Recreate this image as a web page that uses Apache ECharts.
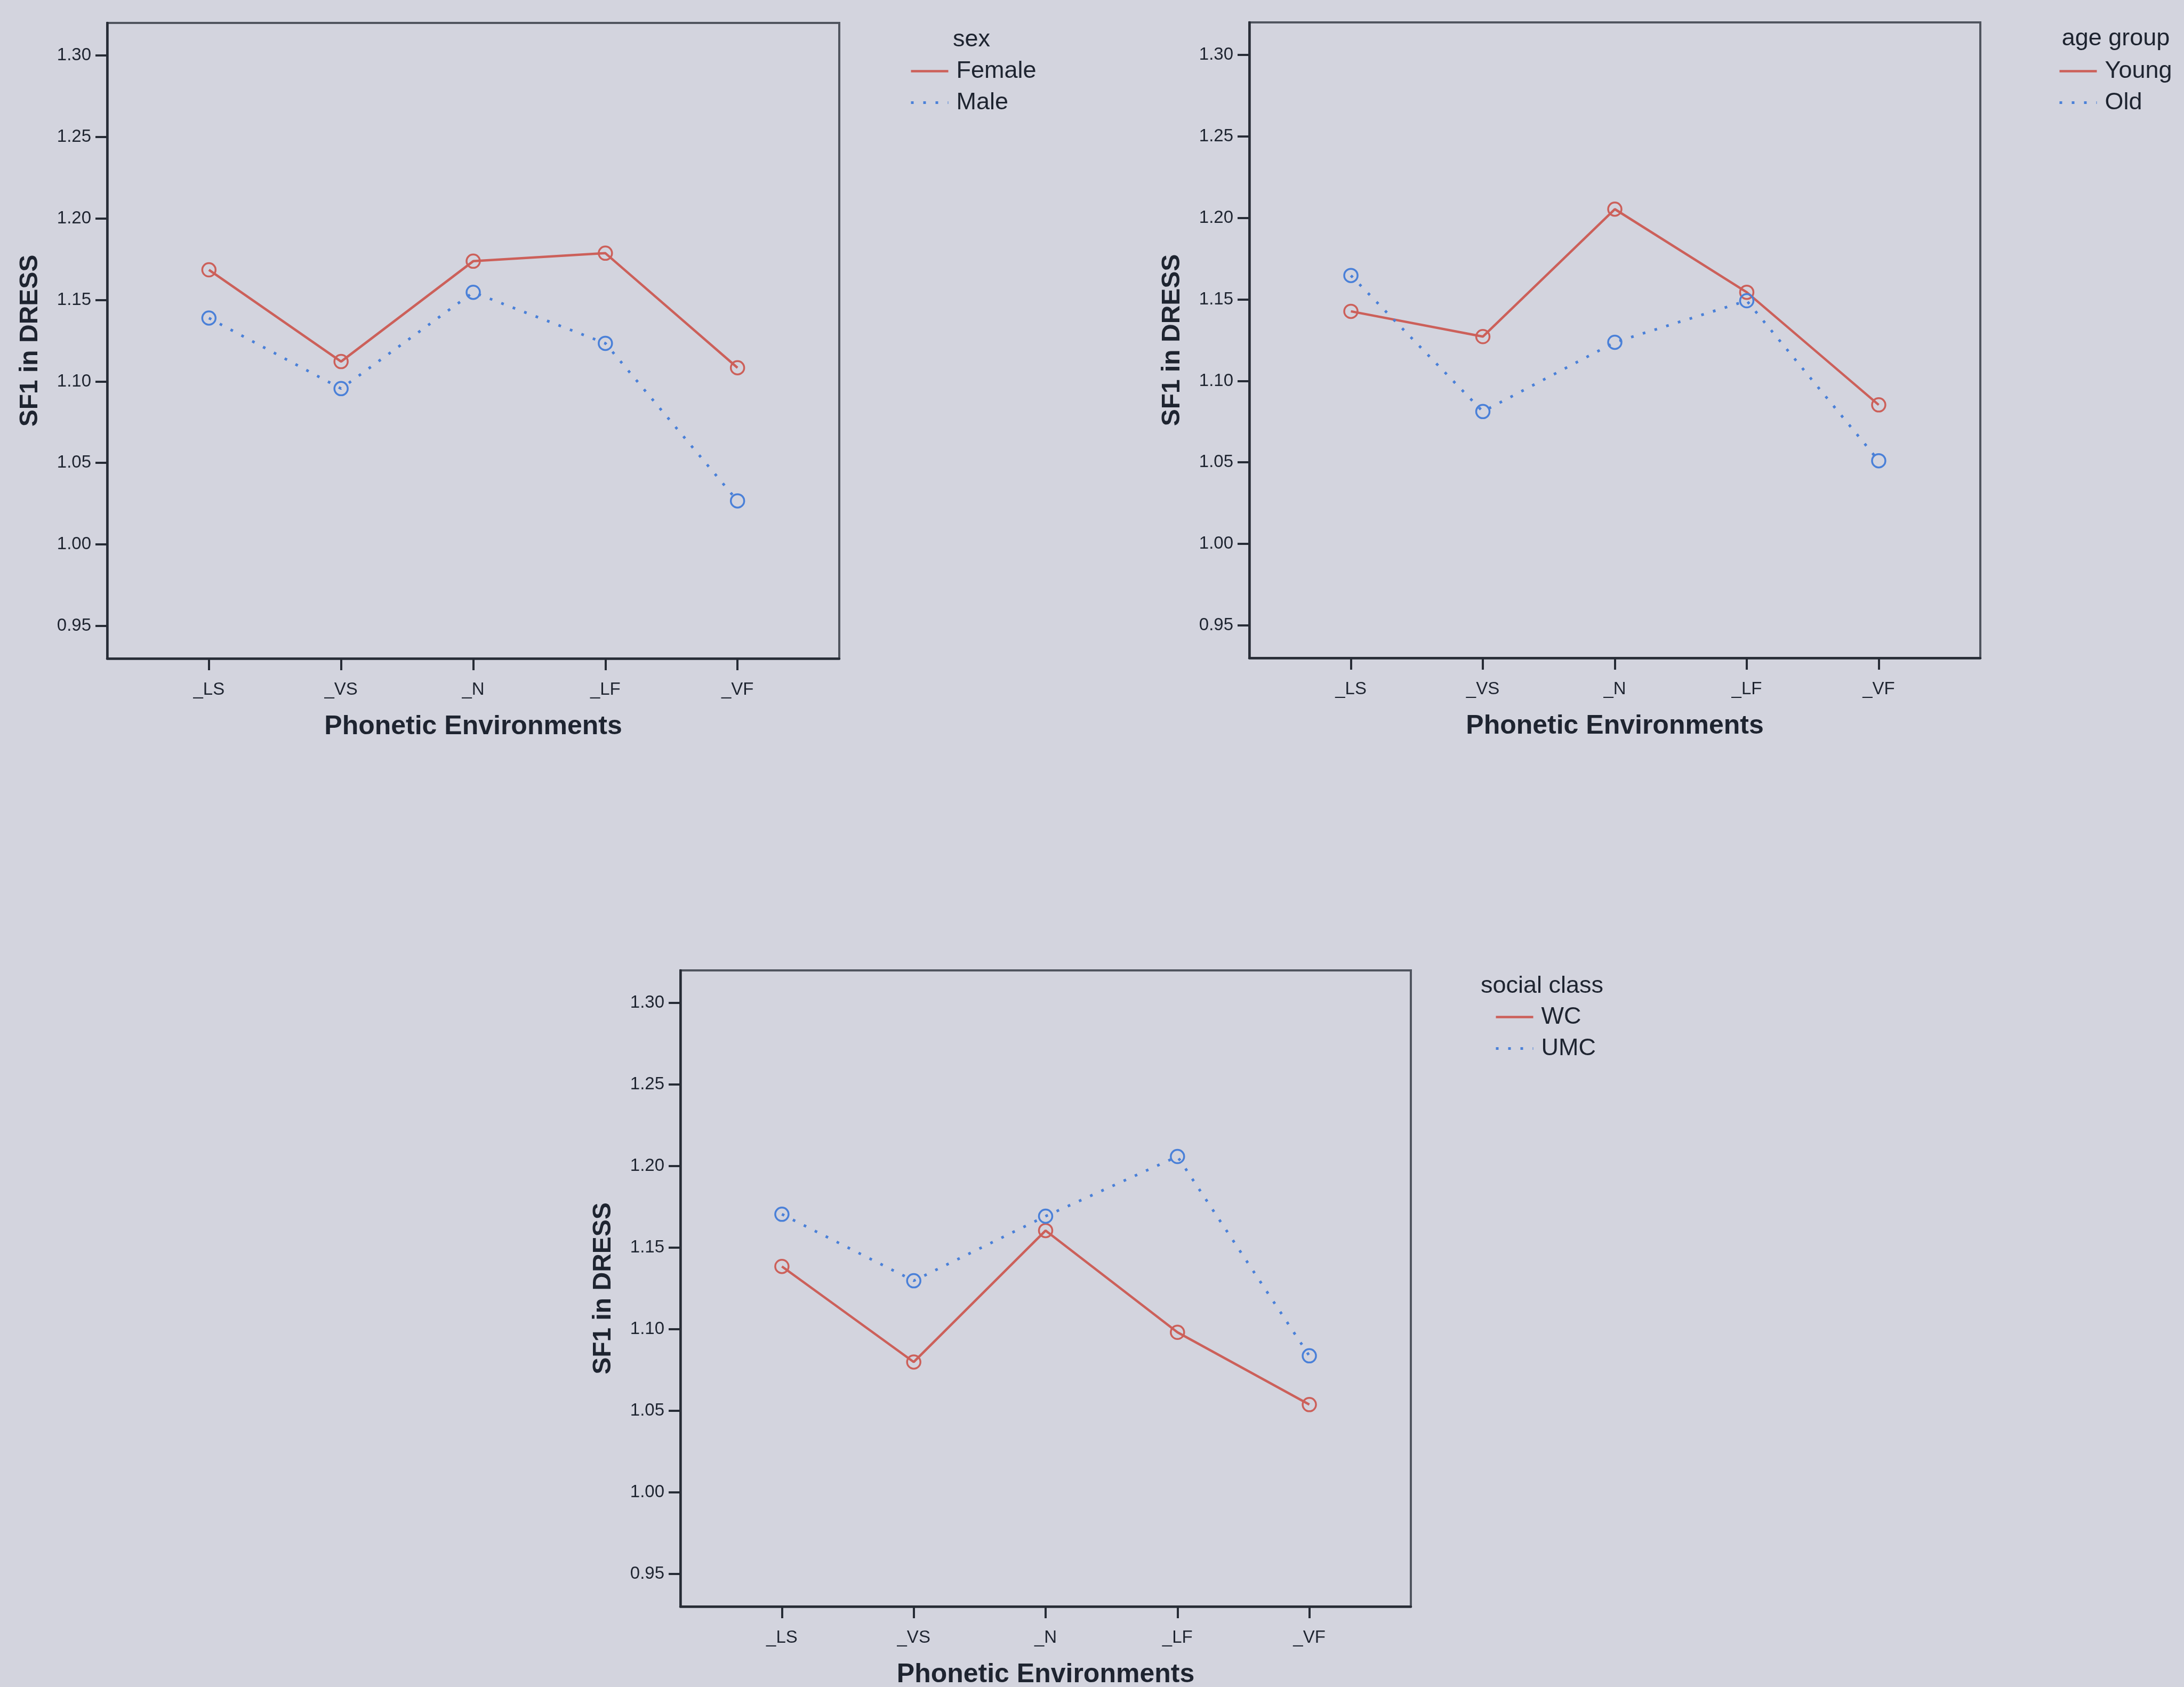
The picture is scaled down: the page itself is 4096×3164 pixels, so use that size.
<!DOCTYPE html>
<html><head><meta charset="utf-8">
<script src="https://cdn.jsdelivr.net/npm/echarts@6/dist/echarts.min.js"></script>
<style>html,body{margin:0;padding:0;background:#d3d4de}#c{width:4096px;height:3164px}</style>
</head><body><div id="c"></div>
<script>
// ---- data ----
const categories = ['_LS', '_VS', '_N', '_LF', '_VF'];
const yTicks = [0.95, 1.00, 1.05, 1.10, 1.15, 1.20, 1.25, 1.30];
const xTicks = [0, 1, 2, 3, 4];
const yTitle = 'SF1 in DRESS';
const xTitle = 'Phonetic Environments';

const sexTitle = 'sex';
const sexNames = ['Female', 'Male'];
const sexFemale = [1.1685, 1.1122, 1.1738, 1.1787, 1.1084];
const sexMale   = [1.1389, 1.0956, 1.1547, 1.1234, 1.0267];

const ageTitle = 'age group';
const ageNames = ['Young', 'Old'];
const ageYoung = [1.1427, 1.1272, 1.2054, 1.1544, 1.0853];
const ageOld   = [1.1647, 1.0812, 1.1237, 1.1492, 1.0510];

const classTitle = 'social class';
const classNames = ['WC', 'UMC'];
const classWC  = [1.1385, 1.0799, 1.1605, 1.0981, 1.0538];
const classUMC = [1.1705, 1.1297, 1.1693, 1.2059, 1.0837];

// ---- layout / style ----
const FONT = "'Liberation Sans', Arial, Helvetica, sans-serif";
const TXT = '#1e2430';
const AX = '#272c36';
const RED = '#cc605a';
const BLUE = '#4a80d8';

const panels = [
  { grid: {left: 201, top: 43, width: 1373, height: 1192}, title: sexTitle, names: sexNames, vals: [sexFemale, sexMale],
    legLeft: 1706, legTop: 111, titleX: 1822, titleY: 52 },
  { grid: {left: 2343, top: 42, width: 1371, height: 1192}, title: ageTitle, names: ageNames, vals: [ageYoung, ageOld],
    legLeft: 3860, legTop: 111, titleX: 3968, titleY: 50 },
  { grid: {left: 1276, top: 1820, width: 1370, height: 1193}, title: classTitle, names: classNames, vals: [classWC, classUMC],
    legLeft: 2803, legTop: 1885, titleX: 2892, titleY: 1827 }
];

const styles = [
  { color: RED, type: 'solid', width: 4.5 },
  { color: BLUE, type: [5, 18], width: 5 }
];

const grid = [], xAxis = [], yAxis = [], series = [], legend = [], graphic = [];
panels.forEach((p, i) => {
  grid.push(Object.assign({ show: true, borderColor: '#50555f', borderWidth: 4, backgroundColor: 'transparent',
    containLabel: false, outerBoundsMode: 'none' }, p.grid));
  xAxis.push({
    type: 'value', gridIndex: i, min: -0.77, max: 4.77,
    name: xTitle, nameLocation: 'middle', nameGap: 103, nameMoveOverlap: false,
    nameTextStyle: { fontSize: 50, fontWeight: 'bold', color: TXT, fontFamily: FONT },
    axisLine: { show: true, onZero: false, lineStyle: { color: AX, width: 4.5 } },
    axisTick: { show: true, length: 22, customValues: xTicks, lineStyle: { color: AX, width: 4 } },
    axisLabel: { customValues: xTicks, formatter: v => categories[Math.round(v)], margin: 42,
      fontSize: 33, color: TXT, fontFamily: FONT },
    splitLine: { show: false }
  });
  yAxis.push({
    type: 'value', gridIndex: i, min: 0.93, max: 1.32,
    name: yTitle, nameLocation: 'middle', nameGap: 120, nameMoveOverlap: false,
    nameTextStyle: { fontSize: 48, fontWeight: 'bold', color: TXT, fontFamily: FONT },
    axisLine: { show: true, onZero: false, lineStyle: { color: AX, width: 4.5 } },
    axisTick: { show: true, length: 22, customValues: yTicks, lineStyle: { color: AX, width: 4 } },
    axisLabel: { customValues: yTicks, formatter: v => v.toFixed(2), margin: 30,
      fontSize: 33, color: TXT, fontFamily: FONT },
    splitLine: { show: false }
  });
  p.names.forEach((nm, k) => {
    const st = styles[k];
    series.push({
      type: 'line', name: nm, xAxisIndex: i, yAxisIndex: i,
      data: p.vals[k].map((v, j) => [j, v]),
      symbol: 'circle', symbolSize: 25, color: st.color,
      itemStyle: { color: 'rgba(0,0,0,0)', borderColor: st.color, borderWidth: 3.5 },
      lineStyle: { color: st.color, width: st.width, type: st.type },
      emphasis: { disabled: true }, z: 3 + k
    });
  });
  legend.push({
    orient: 'vertical', left: p.legLeft, top: p.legTop, padding: 0, itemGap: 14,
    itemWidth: 70, itemHeight: 6, selectedMode: false,
    itemStyle: { opacity: 0 },
    data: p.names.map((nm, k) => ({ name: nm, itemStyle: { opacity: 0 },
      lineStyle: { color: styles[k].color, width: styles[k].width, type: styles[k].type } })),
    textStyle: { fontSize: 45, color: TXT, fontFamily: FONT, padding: [0, 0, 0, 10] }
  });
  graphic.push({
    type: 'text', x: p.titleX, y: p.titleY, silent: true,
    style: { text: p.title, align: 'center', verticalAlign: 'top', fill: TXT,
      font: '45px ' + FONT }
  });
});

const chart = echarts.init(document.getElementById('c'), null, { renderer: 'canvas' });
chart.setOption({
  backgroundColor: '#d3d4de',
  animation: false,
  grid, xAxis, yAxis, series, legend, graphic
});
</script>
</body></html>
